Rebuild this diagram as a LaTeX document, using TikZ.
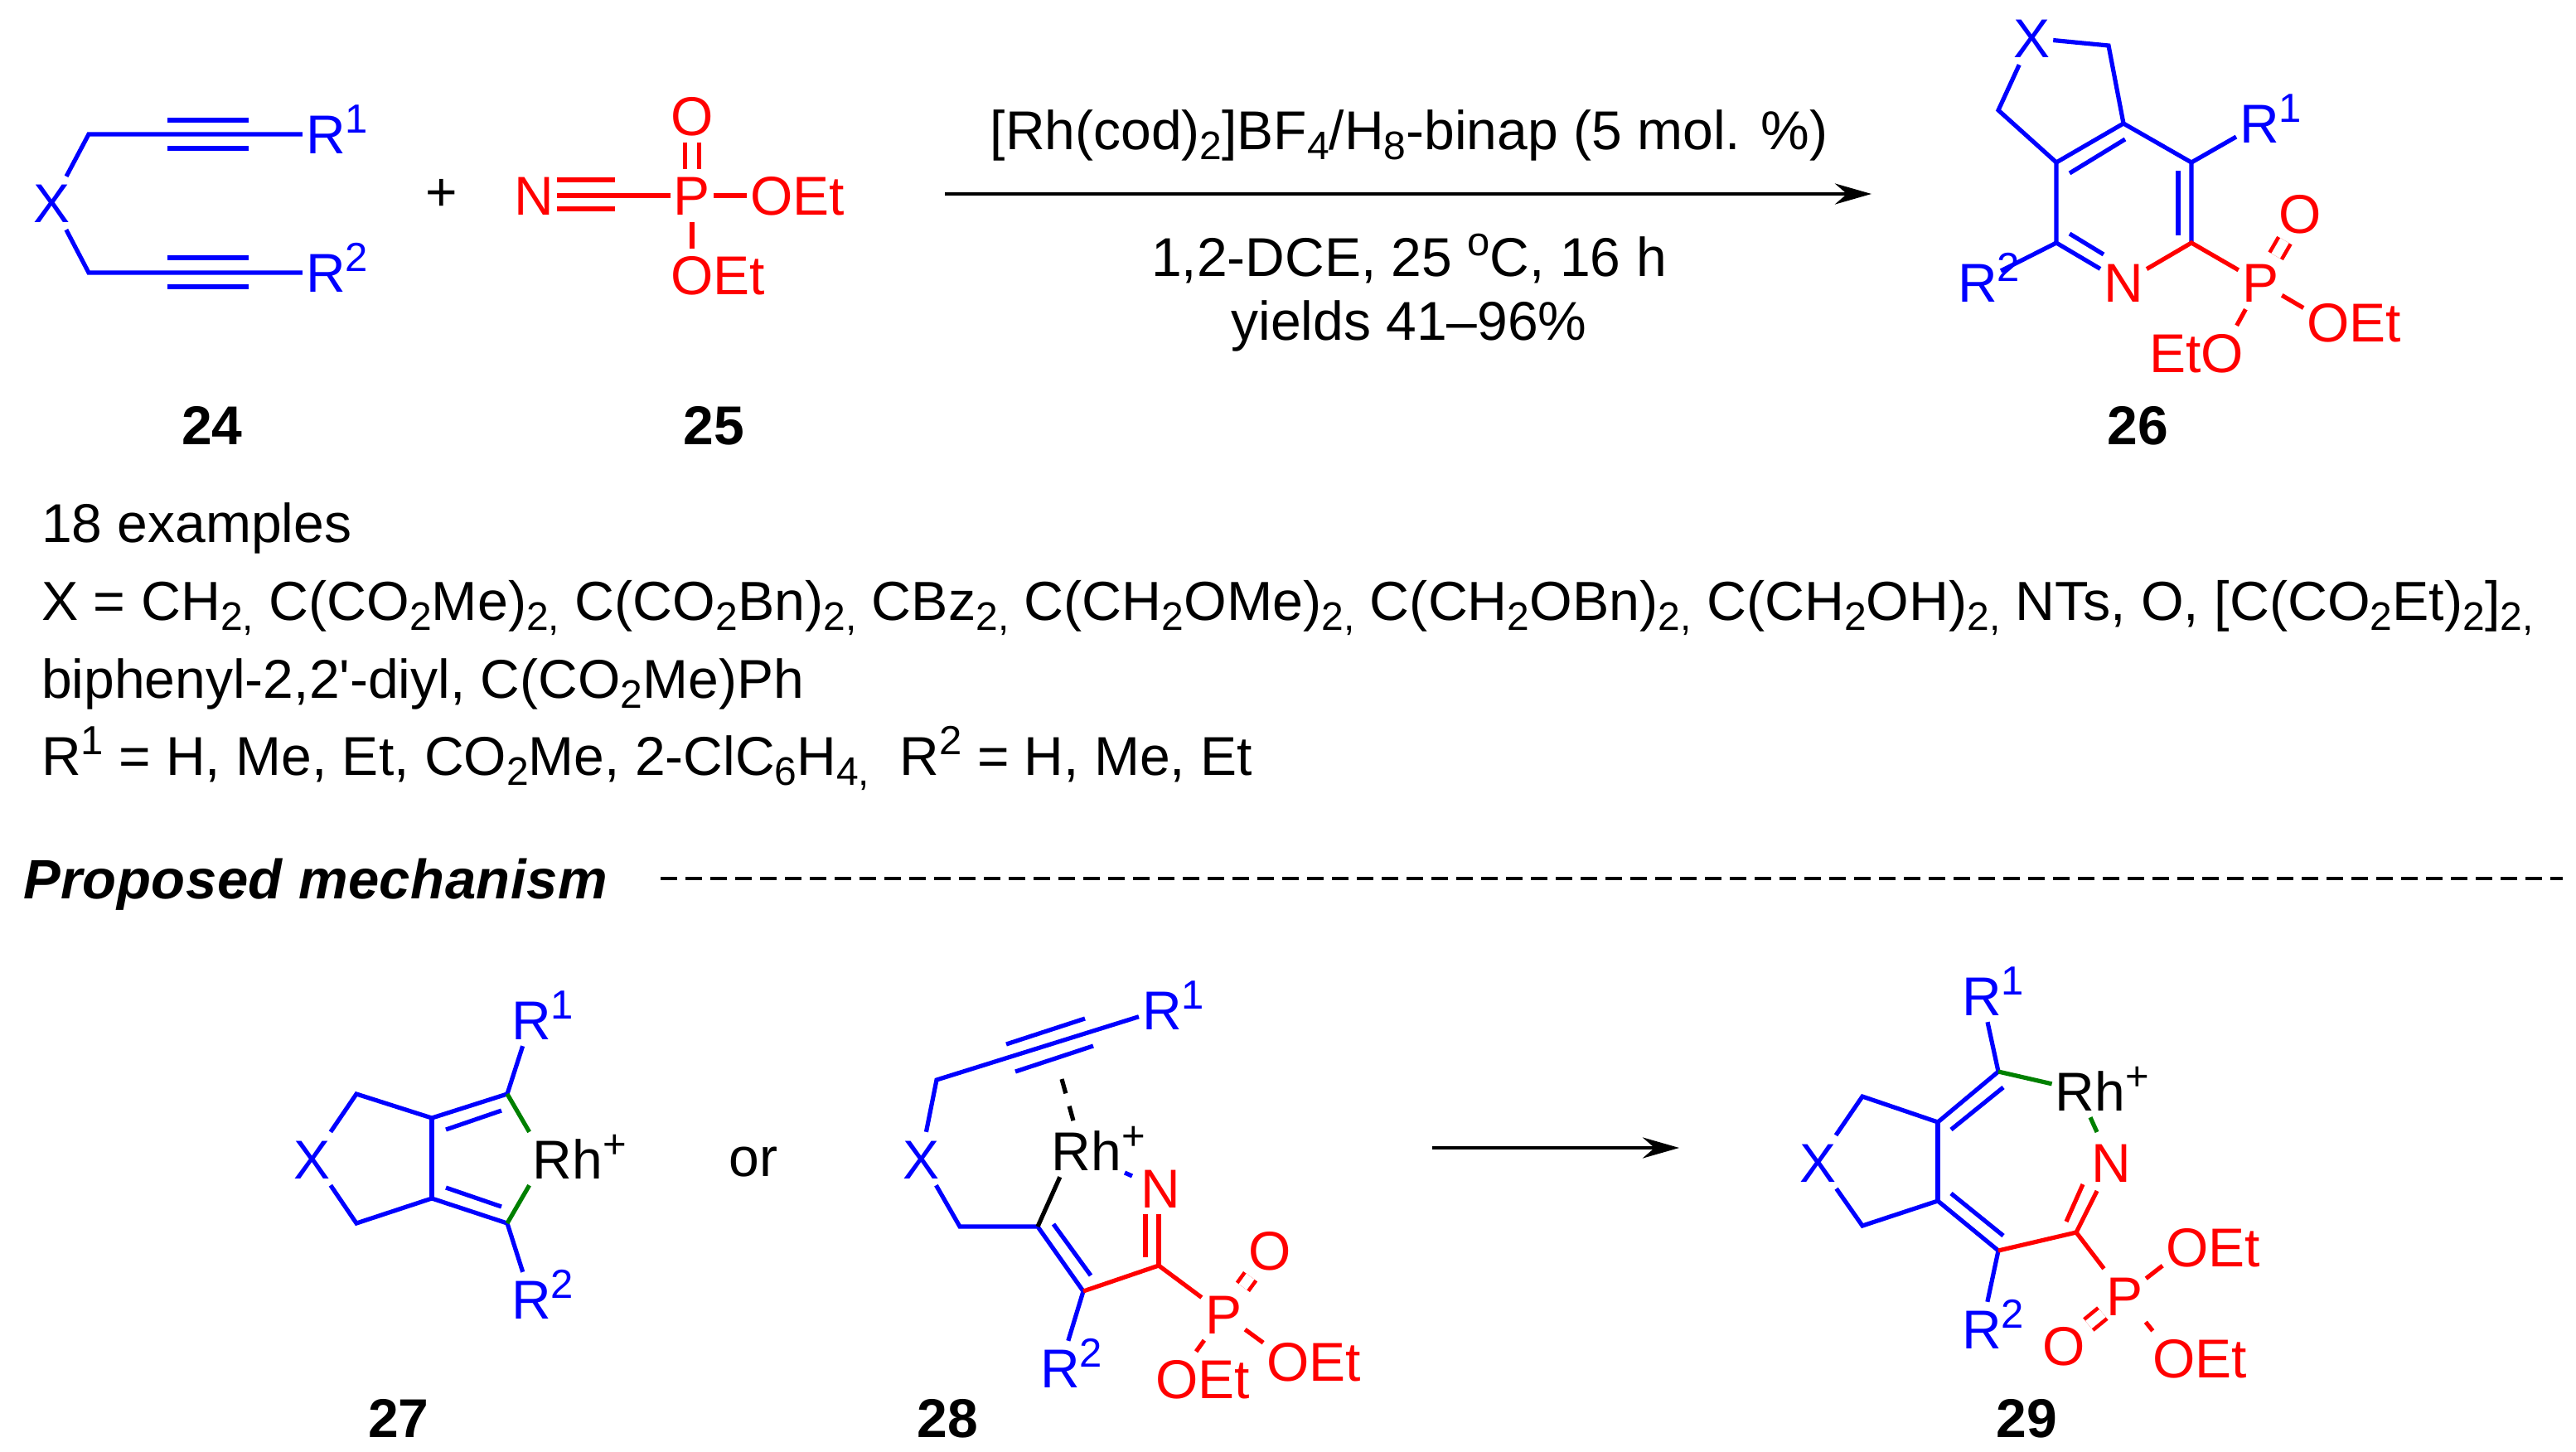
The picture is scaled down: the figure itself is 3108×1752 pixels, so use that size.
\documentclass[tikz,border=0pt]{standalone}
\usepackage{fontspec}
\setmainfont{Liberation Sans}
\usetikzlibrary{arrows.meta}

\newcommand{\supr}[1]{\raisebox{25pt}{\fontsize{49}{49}\selectfont #1}}
\newcommand{\subr}[1]{\raisebox{-12pt}{\fontsize{48}{48}\selectfont #1}}

\tikzset{
  every node/.style={font=\fontsize{66}{80}\selectfont},
  atom/.style={inner xsep=4pt,inner ysep=8pt,text height=48pt,text depth=0pt},
  blueatom/.style={atom,text=blue},
  redatom/.style={atom,text=red},
  blackatom/.style={atom,text=black},
  cmpd/.style={atom,font=\fontsize{66}{80}\selectfont\bfseries},
  txt/.style={anchor=base west,inner sep=0pt},
  rxn/.style={anchor=base,inner sep=0pt},
  bluebond/.style={draw=blue,line width=5.2pt},
  redbond/.style={draw=red,line width=5.2pt},
  greenbond/.style={draw=green!50!black,line width=5.2pt},
  blackbond/.style={draw=black,line width=5.2pt},
  redpo/.style={redbond,double=white,double distance=12pt,line width=4.6pt},
  arrowline/.style={draw=black,line width=4.8pt,-{Stealth[length=44pt,width=25pt]}}
}

\begin{document}
\begin{tikzpicture}[x=1pt,y=-1pt]
\useasboundingbox (0,0) rectangle (3108,1752);

% diyne
\node[blueatom] (x24) at (63,245) {X};
\node[blueatom] (ra24) at (393,162) {R\rlap{\supr{1}}};
\node[blueatom] (rb24) at (393,329) {R\rlap{\supr{2}}};
\coordinate (ca24) at (107,162);
\coordinate (cb24) at (107,329);
\coordinate (ta24) at (202,145);
\coordinate (tb24) at (300,145);
\coordinate (tc24) at (202,179);
\coordinate (td24) at (300,179);
\coordinate (te24) at (202,311);
\coordinate (tf24) at (300,311);
\coordinate (tg24) at (202,346);
\coordinate (th24) at (300,346);
\draw[bluebond] (x24) -- (ca24) -- (ra24);
\draw[bluebond] (x24) -- (cb24) -- (rb24);
\draw[bluebond] (ta24) -- (tb24);
\draw[bluebond] (tc24) -- (td24);
\draw[bluebond] (te24) -- (tf24);
\draw[bluebond] (tg24) -- (th24);
\node (plus) at (533,235) {+};

% nitrile
\node[redatom] (n25) at (644,236) {N};
\node[redatom] (p25) at (835,236) {P};
\node[redatom] (o25) at (835,140) {O};
\node[redatom] (oa25) at (931,236) {O\rlap{Et}};
\node[redatom] (ob25) at (835,332) {O\rlap{Et}};
\coordinate (ta25) at (672,217);
\coordinate (tb25) at (742,217);
\coordinate (tc25) at (672,252);
\coordinate (td25) at (742,252);
\draw[redbond] (n25) -- (p25);
\draw[redbond] (ta25) -- (tb25);
\draw[redbond] (tc25) -- (td25);
\draw[redpo] (p25) -- (o25);
\draw[redbond] (p25) -- (oa25);
\draw[redbond] (p25) -- (ob25);

% reaction arrow
\coordinate (arra) at (1140,234);
\coordinate (arrb) at (2258,234);
\draw[arrowline] (arra) -- (arrb);
\node[rxn] (cond) at (1700,181) {[Rh(cod)\subr{2}]BF\subr{4}/H\subr{8}-binap (5 mol. \%)};
\node[rxn] (temp) at (1700,334) {1,2-DCE, 25 \supr{o}C, 16 h};
\node[rxn] (yield) at (1700,410) {yields 41--96\%};

% pyridine
\node[blueatom] (x26) at (2451,46) {X};
\node[redatom] (n26) at (2562,341) {N};
\node[redatom] (p26) at (2727,341) {P};
\node[redatom] (o26) at (2775,258) {O};
\node[redatom] (oa26) at (2809,389) {O\rlap{Et}};
\node[redatom] (ob26) at (2681,425) {\llap{Et}O};
\node[blueatom] (ra26) at (2726,149) {R\rlap{\supr{1}}};
\node[blueatom] (rb26) at (2386,341) {R\rlap{\supr{2}}};
\coordinate (ca26) at (2544,55);
\coordinate (cb26) at (2562,149);
\coordinate (cc26) at (2481,196);
\coordinate (cd26) at (2411,133);
\coordinate (ce26) at (2644,196);
\coordinate (cf26) at (2644,293);
\coordinate (cg26) at (2481,293);
\coordinate (ia26) at (2564,168);
\coordinate (ib26) at (2497,209);
\coordinate (ic26) at (2628,206);
\coordinate (id26) at (2628,284);
\coordinate (ie26) at (2497,282);
\coordinate (if26) at (2538,307);
\draw[bluebond] (x26) -- (ca26) -- (cb26) -- (cc26) -- (cd26) -- (x26);
\draw[bluebond] (cb26) -- (ce26) -- (cf26);
\draw[bluebond] (cc26) -- (cg26) -- (n26);
\draw[bluebond] (ce26) -- (ra26);
\draw[bluebond] (cg26) -- (rb26);
\draw[bluebond] (ia26) -- (ib26);
\draw[bluebond] (ic26) -- (id26);
\draw[bluebond] (ie26) -- (if26);
\draw[redbond] (n26) -- (cf26) -- (p26);
\draw[redpo] (p26) -- (o26);
\draw[redbond] (p26) -- (oa26);
\draw[redbond] (p26) -- (ob26);

\node[cmpd] (lab24) at (256,512) {24};
\node[cmpd] (lab25) at (861,512) {25};
\node[cmpd] (lab26) at (2579,512) {26};

% scope of the reaction
\node[txt] (ex) at (50,654) {18 examples};
\node[txt,font=\fontsize{66.4}{80}\selectfont] (subx) at (50,748) {X = CH\subr{2,} C(CO\subr{2}Me)\subr{2,} C(CO\subr{2}Bn)\subr{2,} CBz\subr{2,} C(CH\subr{2}OMe)\subr{2,} C(CH\subr{2}OBn)\subr{2,} C(CH\subr{2}OH)\subr{2,} NTs, O, [C(CO\subr{2}Et)\subr{2}]\subr{2,}};
\node[txt] (subxb) at (50,842) {biphenyl-2,2\textquotesingle-diyl, C(CO\subr{2}Me)Ph};
\node[txt] (subr) at (50,935) {R\supr{1} = H, Me, Et, CO\subr{2}Me, 2-ClC\subr{6}H\subr{4,}~~R\supr{2} = H, Me, Et};

% mechanism
\node[txt,font=\fontsize{67}{80}\selectfont\bfseries\itshape\addfontfeature{LetterSpace=0.8}] (mech) at (28,1084) {Proposed mechanism};
\coordinate (dasha) at (797,1060);
\coordinate (dashb) at (3092,1060);
\draw[line width=3.6pt,dash pattern=on 20pt off 10pt] (dasha) -- (dashb);

% rhodacycle
\node[blueatom] (x27) at (377,1398) {X};
\node[blackatom] (rh27) at (685,1398) {Rh\rlap{\supr{+}}};
\node[blueatom] (ra27) at (641,1230) {R\rlap{\supr{1}}};
\node[blueatom] (rb27) at (641,1567) {R\rlap{\supr{2}}};
\coordinate (ca27) at (430,1320);
\coordinate (cb27) at (521,1349);
\coordinate (cc27) at (612,1320);
\coordinate (cd27) at (521,1446);
\coordinate (ce27) at (612,1476);
\coordinate (cf27) at (430,1476);
\coordinate (ia27) at (538,1363);
\coordinate (ib27) at (605,1340);
\coordinate (ic27) at (538,1433);
\coordinate (id27) at (605,1456);
\draw[bluebond] (x27) -- (ca27) -- (cb27) -- (cc27);
\draw[bluebond] (x27) -- (cf27) -- (cd27) -- (ce27);
\draw[bluebond] (cb27) -- (cd27);
\draw[bluebond] (ia27) -- (ib27);
\draw[bluebond] (ic27) -- (id27);
\draw[bluebond] (cc27) -- (ra27);
\draw[bluebond] (ce27) -- (rb27);
\draw[greenbond] (cc27) -- (rh27.north west);
\draw[greenbond] (ce27) -- (rh27.south west);
\node[anchor=base,inner sep=0pt] (or) at (909,1419) {or};

% alkyne complex
\node[blueatom] (x28) at (1111,1398) {X};
\node[blackatom] (rh28) at (1311,1388) {Rh\rlap{\supr{+}}};
\node[blueatom] (ra28) at (1402,1218) {R\rlap{\supr{1}}};
\node[blueatom] (rb28) at (1279,1650) {R\rlap{\supr{2}}};
\node[redatom] (n28) at (1400,1433) {N};
\node[redatom] (p28) at (1476,1585) {P};
\node[redatom] (o28) at (1532,1508) {O};
\node[redatom] (oa28) at (1554,1642) {O\rlap{Et}};
\node[redatom] (ob28) at (1420,1663) {O\rlap{Et}};
\coordinate (ca28) at (1130,1303);
\coordinate (cb28) at (1158,1480);
\coordinate (cc28) at (1252,1480);
\coordinate (cd28) at (1307,1558);
\coordinate (ce28) at (1398,1527);
\coordinate (ta28) at (1214,1260);
\coordinate (tb28) at (1309,1229);
\coordinate (tc28) at (1225,1293);
\coordinate (td28) at (1319,1262);
\coordinate (ia28) at (1271,1477);
\coordinate (ib28) at (1316,1539);
\coordinate (ic28) at (1382,1465);
\coordinate (id28) at (1382,1517);
\coordinate (ne28) at (1398,1465);
\coordinate (da28) at (1281,1302);
\coordinate (db28) at (1357,1415);
\coordinate (dc28) at (1366,1419);
\draw[bluebond] (x28) -- (ca28) -- (ra28);
\draw[bluebond] (x28) -- (cb28) -- (cc28) -- (cd28) -- (rb28);
\draw[bluebond] (ta28) -- (tb28);
\draw[bluebond] (tc28) -- (td28);
\draw[bluebond] (ia28) -- (ib28);
\draw[blackbond] (rh28.225) -- (cc28);
\draw[blackbond,dash pattern=on 18pt off 16pt] (da28) -- (rh28.115);
\draw[bluebond] (db28) -- (dc28);
\draw[redbond] (cd28) -- (ce28) -- (p28);
\draw[redbond] (ce28) -- (ne28);
\draw[redbond] (ic28) -- (id28);
\draw[redpo] (p28) -- (o28);
\draw[redbond] (p28) -- (oa28);
\draw[redbond] (p28) -- (ob28);

% arrow to the azepine
\coordinate (arrc) at (1728,1385);
\coordinate (arrd) at (2026,1385);
\draw[arrowline] (arrc) -- (arrd);

% rhodaazepine
\node[blueatom] (x29) at (2193,1402) {X};
\node[blackatom] (rh29) at (2522,1316) {Rh\rlap{\supr{+}}};
\node[redatom] (n29) at (2547,1402) {N};
\node[blueatom] (ra29) at (2391,1201) {R\rlap{\supr{1}}};
\node[blueatom] (rb29) at (2391,1603) {R\rlap{\supr{2}}};
\node[redatom] (p29) at (2563,1563) {P};
\node[redatom] (o29) at (2490,1623) {O};
\node[redatom] (oa29) at (2639,1504) {O\rlap{Et}};
\node[redatom] (ob29) at (2623,1638) {O\rlap{Et}};
\coordinate (ca29) at (2247,1323);
\coordinate (cb29) at (2338,1354);
\coordinate (cc29) at (2411,1293);
\coordinate (cd29) at (2338,1449);
\coordinate (ce29) at (2411,1509);
\coordinate (cf29) at (2247,1479);
\coordinate (cg29) at (2505,1487);
\coordinate (ia29) at (2354,1363);
\coordinate (ib29) at (2417,1312);
\coordinate (ic29) at (2354,1440);
\coordinate (id29) at (2417,1491);
\coordinate (ie29) at (2513,1429);
\coordinate (if29) at (2493,1474);
\coordinate (ne29) at (2530,1437);
\coordinate (gn29) at (2530,1366);
\draw[bluebond] (x29) -- (ca29) -- (cb29) -- (cc29) -- (ra29);
\draw[bluebond] (x29) -- (cf29) -- (cd29) -- (ce29) -- (rb29);
\draw[bluebond] (cb29) -- (cd29);
\draw[bluebond] (ia29) -- (ib29);
\draw[bluebond] (ic29) -- (id29);
\draw[greenbond] (cc29) -- (rh29.170);
\draw[greenbond] (rh29.south) -- (gn29);
\draw[redbond] (ce29) -- (cg29) -- (p29);
\draw[redbond] (cg29) -- (ne29);
\draw[redbond] (ie29) -- (if29);
\draw[redpo] (p29) -- (o29);
\draw[redbond] (p29) -- (oa29);
\draw[redbond] (p29) -- (ob29);

\node[cmpd] (lab27) at (481,1710) {27};
\node[cmpd] (lab28) at (1143,1710) {28};
\node[cmpd] (lab29) at (2445,1710) {29};

\end{tikzpicture}
\end{document}
